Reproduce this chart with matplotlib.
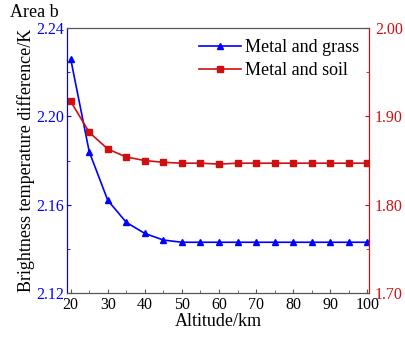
"""Brightness temperature difference vs altitude, area b."""

import matplotlib
matplotlib.use("Agg")
import matplotlib.pyplot as plt
from matplotlib.ticker import MultipleLocator

plt.rcParams["font.family"] = ["Liberation Serif", "DejaVu Serif"]

altitude = [20, 25, 30, 35, 40, 45, 50, 55, 60, 65, 70, 75, 80, 85, 90, 95, 100]
grass = [2.226, 2.184, 2.162, 2.152, 2.147, 2.144, 2.143, 2.143, 2.143, 2.143,
         2.143, 2.143, 2.143, 2.143, 2.143, 2.143, 2.143]
soil = [1.917, 1.882, 1.863, 1.854, 1.850, 1.848, 1.847, 1.847, 1.846, 1.847,
        1.847, 1.847, 1.847, 1.847, 1.847, 1.847, 1.847]

BLUE = "#0000ff"
RED = "#d01010"
GRAY = "#555555"
FS = 13
TFS = 11.5

fig = plt.figure(figsize=(4.06, 3.38), dpi=100)
ax = fig.add_axes([0.165, 0.133, 0.745, 0.784])
ax2 = ax.twinx()

l1, = ax.plot(altitude, grass, color=BLUE, marker="^", markersize=4.5, lw=1.2,
              label="Metal and grass")
l2, = ax2.plot(altitude, soil, color=RED, marker="s", markersize=3.8, lw=1.2,
               label="Metal and soil")

ax.set_xlim(19, 100.6)
ax.set_ylim(2.12, 2.24)
ax2.set_ylim(1.70, 2.00)

ax.xaxis.set_major_locator(MultipleLocator(10))
ax.xaxis.set_minor_locator(MultipleLocator(5))
ax.yaxis.set_major_locator(MultipleLocator(0.04))
ax.yaxis.set_minor_locator(MultipleLocator(0.02))
ax2.yaxis.set_major_locator(MultipleLocator(0.1))
ax2.yaxis.set_minor_locator(MultipleLocator(0.05))
ax.yaxis.set_major_formatter(lambda v, p: f"{v:.2f}")
ax2.yaxis.set_major_formatter(lambda v, p: f"{v:.2f}")

ax.tick_params(axis="x", which="both", direction="in", colors=GRAY,
               labelcolor="black", labelsize=TFS, top=False, pad=3)
ax.tick_params(axis="y", which="both", direction="in", colors=BLUE,
               labelcolor=BLUE, labelsize=TFS, pad=2)
ax2.tick_params(axis="y", which="both", direction="in", colors=RED,
                labelcolor=RED, labelsize=TFS, pad=4)
for a in (ax, ax2):
    a.tick_params(which="major", length=3)
    a.tick_params(which="minor", length=2)

for a in (ax, ax2):
    a.spines["left"].set_color(BLUE)
    a.spines["right"].set_color(RED)
    a.spines["top"].set_color(GRAY)
    a.spines["bottom"].set_color(GRAY)

ax.set_xlabel("Altitude/km", fontsize=FS, labelpad=0)
ax.set_ylabel("Brightness temperature difference/K", fontsize=FS, labelpad=1)
fig.text(10 / 406, 1 - 4 / 338, "Area b", fontsize=FS, ha="left", va="top")

ax2.legend([l1, l2], [l1.get_label(), l2.get_label()], loc="upper right",
           frameon=False, fontsize=FS, handlelength=2.3, borderaxespad=0.3,
           borderpad=0.3, labelspacing=0.35, handletextpad=0.2)

fig.savefig("out.png", dpi=100)
